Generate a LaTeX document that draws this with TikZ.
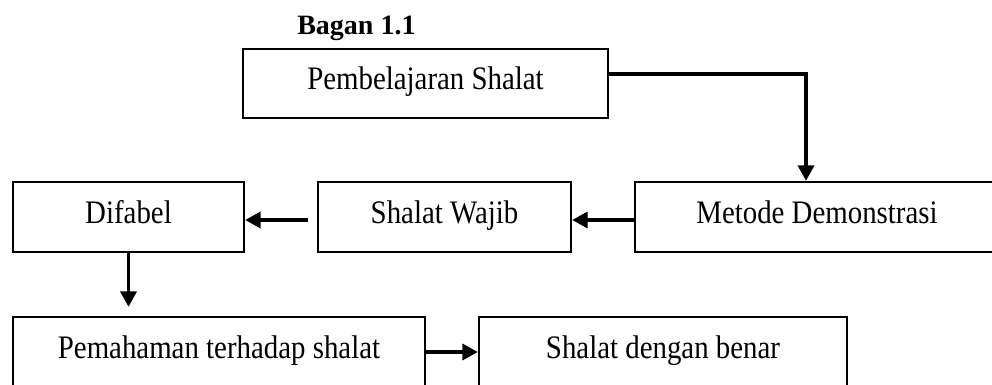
\documentclass[tikz,border=0pt]{standalone}
\usepackage{fontspec}
\setmainfont{Liberation Serif}
\newfontfamily\boxfont[FakeStretch=0.88]{Liberation Serif}
\usetikzlibrary{arrows.meta}
\begin{document}
\begin{tikzpicture}[x=0.75pt,y=-0.75pt,
  stepbox/.style={draw,line width=1.8pt,inner sep=0pt,minimum height=70*0.75pt,
    font=\boxfont\fontsize{24.6}{28}\selectfont,text height=9pt,text depth=0pt},
  boxw/.style={minimum width=#1*0.75pt},
  link/.style={line width=2.4pt,-{Triangle[length=11.5pt,width=12pt]}}]
\useasboundingbox (0,0) rectangle (992,385);
\clip (0,0) rectangle (992,385);

% title
\node[font=\bfseries\fontsize{21}{24}\selectfont,anchor=base west,inner sep=0pt] (title) at (297,35) {Bagan 1.1};

% boxes
\node[stepbox,boxw=365,minimum height=69*0.75pt] (pemb) at (425.5,83.5) {Pembelajaran Shalat};
\node[stepbox,boxw=364] (metode) at (817,217) {Metode Demonstrasi};
\node[stepbox,boxw=253] (wajib) at (444.5,217) {Shalat Wajib};
\node[stepbox,boxw=231] (difabel) at (128.5,217) {Difabel};
\node[stepbox,boxw=412] (paham) at (219,352) {Pemahaman terhadap shalat};
\node[stepbox,boxw=368] (benar) at (663,352) {Shalat dengan benar};

% connectors
\coordinate (bend) at (806,74);
\draw[link] (pemb.east |- bend) -- (bend) -- (bend |- metode.north);
\draw[link] ([yshift=-2.25pt]metode.west) -- ([yshift=-2.25pt]wajib.east);
\draw[link,shorten <=6.75pt] ([yshift=-2.25pt]wajib.west) -- ([yshift=-2.25pt]difabel.east);
\draw[link,shorten >=6.75pt] (difabel.south) -- (difabel.south |- paham.north);
\draw[link] (paham.east) -- (benar.west);
\end{tikzpicture}
\end{document}
